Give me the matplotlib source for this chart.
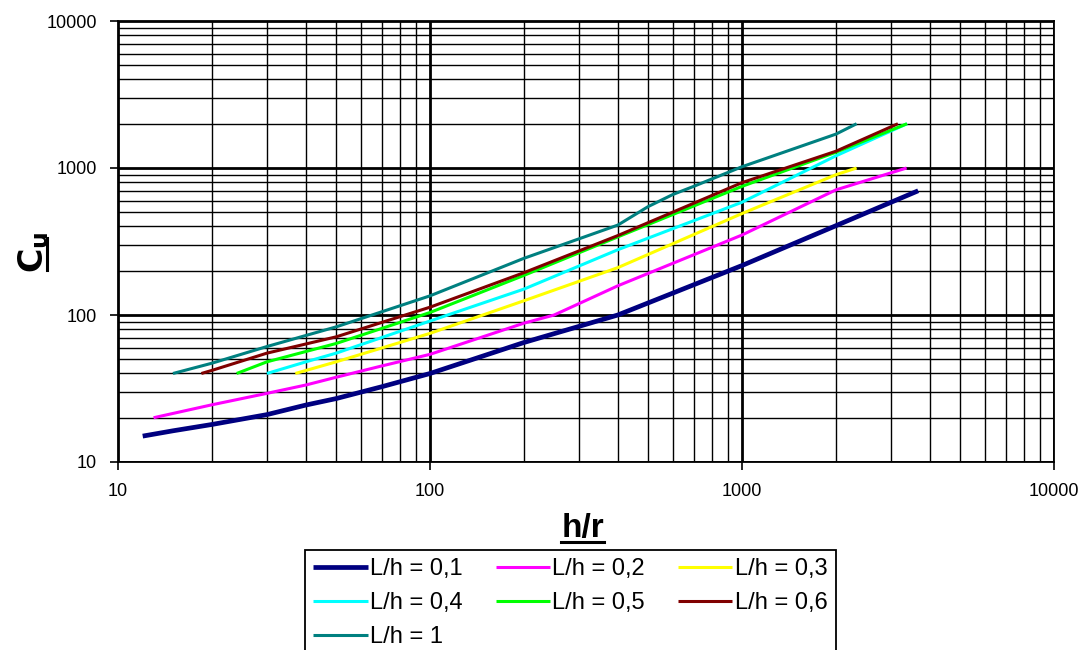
import matplotlib
matplotlib.use("Agg")
import matplotlib.pyplot as plt
from matplotlib.ticker import LogLocator, NullFormatter
from matplotlib.lines import Line2D

plt.rcParams['font.family'] = ['Liberation Sans', 'DejaVu Sans']

# ---- data ----
labels = ["L/h = 0,1", "L/h = 0,2", "L/h = 0,3", "L/h = 0,4",
          "L/h = 0,5", "L/h = 0,6", "L/h = 1"]
colors = ["#000080", "#FF00FF", "#FFFF00", "#00FFFF", "#00FF00", "#800000", "#008080"]

x_01 = [12, 15, 20, 30, 40, 50, 70, 100, 200, 400, 1000, 2000, 3670]
y_01 = [15, 16.3, 18, 21, 24.4, 27, 32.5, 40, 65, 100, 217, 405, 700]

x_02 = [13, 20, 30, 40, 50, 70, 100, 200, 250, 400, 1000, 2000, 3370]
y_02 = [20, 24.5, 29.3, 33.4, 37.7, 45, 54, 88, 100, 158, 350, 710, 1000]

x_03 = [37, 50, 100, 200, 400, 1000, 2000, 2330]
y_03 = [40, 48, 75, 125, 210, 490, 900, 1000]

x_04 = [30, 40, 50, 100, 200, 400, 1000, 2000, 3380]
y_04 = [40, 48, 55, 91, 150, 278, 585, 1210, 2000]

x_05 = [24, 30, 50, 100, 200, 400, 1000, 2000, 3380]
y_05 = [40, 48, 64, 104, 186, 340, 750, 1280, 2000]

x_06 = [18.5, 20, 30, 50, 100, 200, 400, 1000, 2000, 3160]
y_06 = [40, 42, 55, 71, 113, 194, 347, 795, 1300, 2000]

x_1 = [15, 20, 30, 50, 100, 200, 400, 500, 600, 700, 1000, 2000, 2330]
y_1 = [40, 47, 61, 83, 135, 243, 409, 546, 660, 750, 1020, 1700, 2000]

xs = [x_01, x_02, x_03, x_04, x_05, x_06, x_1]
ys = [y_01, y_02, y_03, y_04, y_05, y_06, y_1]
widths = [3.4, 2.2, 2.2, 2.2, 2.2, 2.2, 2.2]

x_ticks = [10, 100, 1000, 10000]
x_ticklabels = ["10", "100", "1000", "10000"]
y_ticks = [10, 100, 1000, 10000]
y_ticklabels = ["10", "100", "1000", "10000"]

# ---- figure ----
W, H = 1087, 650
fig = plt.figure(figsize=(W / 100, H / 100), dpi=100)
ax = fig.add_axes([118 / W, 1 - 462 / H, (1054 - 118) / W, (462 - 21) / H])

ax.set_xscale('log')
ax.set_yscale('log')
ax.set_xlim(10, 10000)
ax.set_ylim(10, 10000)

ax.xaxis.set_minor_locator(LogLocator(base=10, subs=[2, 3, 4, 5, 6, 7, 8, 9]))
ax.yaxis.set_minor_locator(LogLocator(base=10, subs=[2, 3, 4, 5, 6, 7, 8, 9]))
ax.xaxis.set_minor_formatter(NullFormatter())
ax.yaxis.set_minor_formatter(NullFormatter())
ax.set_xticks(x_ticks)
ax.set_xticklabels(x_ticklabels)
ax.set_yticks(y_ticks)
ax.set_yticklabels(y_ticklabels)

ax.grid(True, which='major', color='black', linewidth=2.0)
ax.grid(True, which='minor', color='black', linewidth=1.0)
ax.set_axisbelow(True)

ax.tick_params(which='major', direction='out', length=6, width=1.2,
               labelsize=13, color='black', pad=9)
ax.tick_params(which='minor', length=0)
for s in ax.spines.values():
    s.set_color('black')
    s.set_linewidth(1.3)

handles = []
for xv, yv, c, lw, lab in zip(xs, ys, colors, widths, labels):
    h, = ax.plot(xv, yv, color=c, linewidth=lw, label=lab, solid_capstyle='butt')
    handles.append(h)

# axis titles
fig.text(582.5 / W, 1 - 537 / H, "h/r", fontsize=24, fontweight='bold',
         ha='center', va='baseline')
fig.add_artist(Line2D([561 / W, 604 / W], [1 - 542 / H, 1 - 542 / H],
                      color='black', linewidth=2.2))
fig.text(34 / W, 1 - 252 / H, r"$\mathbf{C_u}$", fontsize=24,
         rotation=90, ha='center', va='center')
fig.add_artist(Line2D([47 / W, 47 / W], [1 - 270 / H, 1 - 238 / H],
                      color='black', linewidth=2.2))

# legend filled row by row (matplotlib fills columns, so reorder)
order = [0, 3, 6, 1, 4, 2, 5]
leg = fig.legend(handles=[handles[i] for i in order],
                 labels=[labels[i] for i in order], ncol=3, loc='upper left',
                 bbox_to_anchor=(305 / W, 1 - 550 / H), fontsize=17,
                 frameon=True, fancybox=False, shadow=False,
                 handlelength=2.3, handletextpad=0.1, columnspacing=1.4,
                 labelspacing=0.5, borderpad=0.35, borderaxespad=0)
leg.get_frame().set_edgecolor('black')
leg.get_frame().set_linewidth(1.3)
leg.get_frame().set_alpha(None)

fig.savefig("out.png", dpi=100, facecolor='white')
